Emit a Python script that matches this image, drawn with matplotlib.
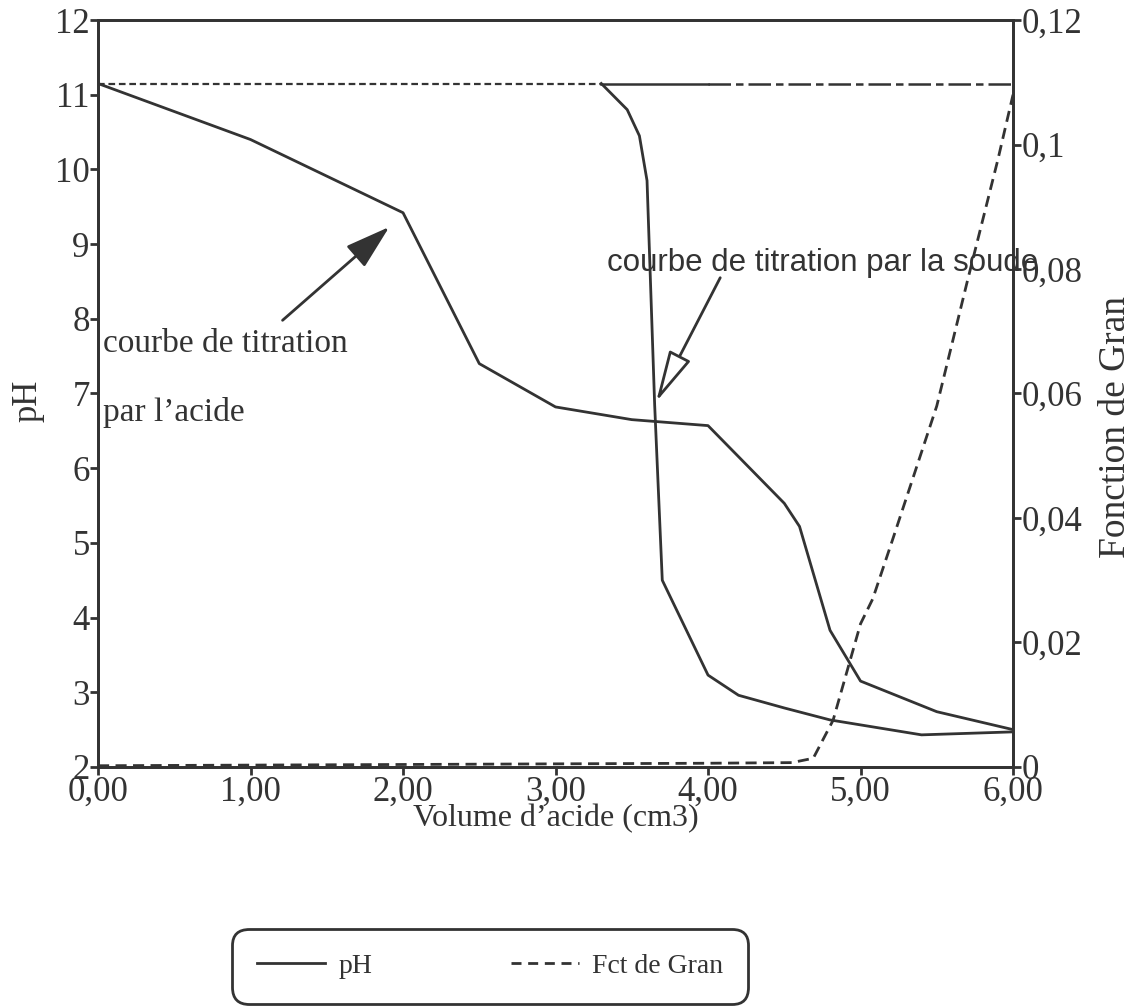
"""Courbes de titration (acide / soude) et fonction de Gran."""

import matplotlib
matplotlib.use("Agg")
import matplotlib.pyplot as plt
from matplotlib.lines import Line2D
from matplotlib.ticker import FuncFormatter

SERIF = "Liberation Serif"
SANS = "Liberation Sans"
INK = "#333333"

# titration par l'acide
vol_acide = [0.0, 1.0, 2.0, 2.5, 3.0, 3.5, 4.0, 4.5, 4.6, 4.8, 5.0, 5.5, 6.0]
ph_acide = [11.15, 10.4, 9.42, 7.4, 6.82, 6.65, 6.57, 5.53, 5.22, 3.83, 3.15, 2.74, 2.5]

# titration par la soude
vol_soude = [3.3, 3.47, 3.55, 3.6, 3.65, 3.7, 4.0, 4.2, 4.5, 4.8, 5.4, 6.0]
ph_soude = [11.15, 10.8, 10.45, 9.85, 6.85, 4.5, 3.23, 2.96, 2.79, 2.63, 2.43, 2.47]

# palier horizontal en haut (pointillé, trait plein, tiret-point)
palier_vol = [0.0, 3.3, 4.0, 6.0]
palier_ph = 11.15

# fonction de Gran
vol_gran = [0.0, 1.0, 2.0, 3.0, 4.0, 4.55, 4.69, 4.82, 5.0, 5.08, 5.21, 5.5, 5.7, 5.9, 6.0]
gran = [0.0002, 0.0003, 0.0004, 0.0005, 0.0006, 0.0007, 0.0014, 0.0075,
        0.023, 0.027, 0.0365, 0.058, 0.078, 0.0975, 0.108]

x_ticks = [0, 1, 2, 3, 4, 5, 6]
ph_ticks = [2, 3, 4, 5, 6, 7, 8, 9, 10, 11, 12]
gran_ticks = [0, 0.02, 0.04, 0.06, 0.08, 0.1, 0.12]

plt.rcParams.update({"font.family": SERIF, "font.size": 22})

fig = plt.figure(figsize=(11.32, 10.06), dpi=100)
ax = fig.add_axes([0.0866, 0.2376, 0.8083, 0.7425])
ax2 = ax.twinx()

ax.plot(palier_vol[:2], [palier_ph] * 2, color=INK, lw=1.6, ls=(0, (3, 1.7)))
ax.plot(palier_vol[1:3], [palier_ph] * 2, color=INK, lw=1.8)
ax.plot(palier_vol[2:], [palier_ph] * 2, color=INK, lw=1.8, ls=(0, (9, 2, 3, 2)))

ax.plot(vol_acide, ph_acide, color=INK, lw=2)
ax.plot(vol_soude, ph_soude, color=INK, lw=2)
ax2.plot(vol_gran, gran, color=INK, lw=2, ls=(0, (4, 2.3)))

ax.set_xlim(0, 6)
ax.set_ylim(2, 12)
ax2.set_ylim(0, 0.12)
ax.set_xticks(x_ticks)
ax.set_yticks(ph_ticks)
ax2.set_yticks(gran_ticks)

ax.xaxis.set_major_formatter(FuncFormatter(lambda v, p: f"{v:.2f}".replace(".", ",")))
ax2.yaxis.set_major_formatter(
    FuncFormatter(lambda v, p: "0" if v == 0 else f"{v:.2f}".rstrip("0").replace(".", ",")))

for a in (ax, ax2):
    for s in a.spines.values():
        s.set_linewidth(2)
        s.set_color(INK)
    a.tick_params(direction="out", length=6, width=2, color=INK, labelsize=25,
                  labelcolor=INK, pad=0)

ax.set_xlabel("Volume d\u2019acide (cm3)", fontsize=23, color=INK)
ax.xaxis.set_label_coords(0.5, -0.05)
ax.set_ylabel("pH", fontsize=25, color=INK)
ax.yaxis.set_label_coords(-0.058, 0.49)
ax2.set_ylabel("Fonction de Gran", fontsize=27, color=INK)
ax2.yaxis.set_label_coords(1.093, 0.455)

# annotations
ax.text(0.03, 7.56, "courbe de titration", fontsize=24, color=INK, va="baseline")
ax.text(0.03, 6.63, "par l\u2019acide", fontsize=24, color=INK, va="baseline")
ax.annotate("", xy=(1.91, 9.23), xytext=(1.21, 7.98),
            arrowprops=dict(arrowstyle="-|>,head_length=1.4,head_width=0.43",
                            mutation_scale=20, color=INK, lw=2, shrinkA=0, shrinkB=0))

ax.text(3.34, 8.75, "courbe de titration par la soude", family=SANS, fontsize=22.5,
        color=INK, va="center", ha="left")
ax.annotate("", xy=(3.66, 6.89), xytext=(4.08, 8.55),
            arrowprops=dict(arrowstyle="-|>,head_length=1.6,head_width=0.37",
                            mutation_scale=20, fc="white", ec=INK, lw=2,
                            shrinkA=0, shrinkB=0))

handles = [Line2D([], [], color=INK, lw=2),
           Line2D([], [], color=INK, lw=2, ls=(0, (3.6, 2.4)))]
leg = fig.legend(handles, ["pH", "Fct de Gran"], loc="center",
                 bbox_to_anchor=(0.433, 0.0395), ncol=2, fontsize=20,
                 handlelength=2.45, handletextpad=0.47, columnspacing=5.0,
                 borderpad=0.9, fancybox=True, framealpha=1)
leg.get_frame().set_edgecolor(INK)
leg.get_frame().set_linewidth(2)
leg.get_frame().set_boxstyle("round", pad=0, rounding_size=0.6)
for t in leg.get_texts():
    t.set_color(INK)

fig.savefig("out.png", dpi=100)
